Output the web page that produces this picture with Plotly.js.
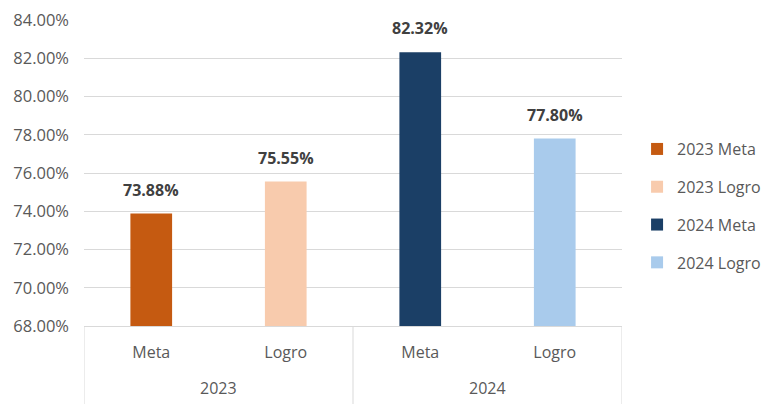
<!DOCTYPE html>
<html><head><meta charset="utf-8">
<script src="https://cdn.plot.ly/plotly-3.0.1.min.js"></script>
<style>html,body{margin:0;padding:0;background:#fff}#chart{width:768px;height:404px}</style>
</head><body><div id="chart"></div>
<script>
const years = ["2023", "2023", "2024", "2024"];
const categories = ["Meta", "Logro", "Meta", "Logro"];
const values = [73.88, 75.55, 82.32, 77.80];
const seriesNames = ["2023 Meta", "2023 Logro", "2024 Meta", "2024 Logro"];
const colors = ["#C55A11", "#F8CBAD", "#1B3F66", "#A9CBEC"];
const yTicks = [68, 70, 72, 74, 76, 78, 80, 82, 84];

const font = "Open Sans, Liberation Sans, sans-serif";
const idx = categories.map((_, i) => i);
const traces = values.map((v, i) => ({
  type: "bar",
  name: seriesNames[i],
  legendgroup: "g" + i,
  x: [i],
  y: [v],
  width: 0.31,
  marker: {color: colors[i]},
  hoverinfo: "none"
}));
const annotations = values.map((v, i) => ({
  x: i, xref: "x", y: v, yref: "y",
  text: v.toFixed(2) + "%",
  showarrow: false, yanchor: "bottom", yshift: 11,
  font: {family: font, size: 16, color: "#404040", weight: "bold"}
}));
// group (year) labels and dividers
const groups = [];
years.forEach((y, i) => {
  const g = groups[groups.length - 1];
  if (g && g.name === y) g.end = i; else groups.push({name: y, start: i, end: i});
});
const shapes = [];
groups.forEach((g, k) => {
  annotations.push({x: (g.start + g.end) / 2, xref: "x", y: -0.203, yref: "paper",
    text: g.name, showarrow: false, yanchor: "middle",
    font: {family: font, size: 16, color: "#595959"}});
  if (k === 0) shapes.push({type: "line", xref: "x", yref: "paper", x0: g.start - 0.5, x1: g.start - 0.5, y0: 0, y1: -0.26, line: {color: "#d9d9d9", width: 1}});
  shapes.push({type: "line", xref: "x", yref: "paper", x0: g.end + 0.5, x1: g.end + 0.5, y0: 0, y1: -0.26, line: {color: "#d9d9d9", width: 1}});
});
const layout = {
  width: 768, height: 404,
  margin: {l: 84, r: 146, t: 20, b: 78, autoexpand: false},
  paper_bgcolor: "#fff", plot_bgcolor: "#fff",
  barmode: "overlay",
  showlegend: true,
  legend: {x: 1.028, xanchor: "left", y: 0.392, yanchor: "middle",
    font: {family: font, size: 16, color: "#595959"}, tracegroupgap: 14, traceorder: "grouped"},
  xaxis: {range: [-0.5, categories.length - 0.5], tickvals: idx, ticktext: categories,
    showline: true, linecolor: "#d9d9d9", linewidth: 1, zeroline: false, ticklabelstandoff: 12,
    tickfont: {family: font, size: 16, color: "#595959"}, ticks: "", showgrid: false},
  yaxis: {range: [68, 84], tickvals: yTicks, ticktext: yTicks.map(t => t.toFixed(2) + "%"),
    showgrid: true, gridcolor: "#d9d9d9", gridwidth: 1, zeroline: false, showline: false,
    tickfont: {family: font, size: 16.5, color: "#595959"}, ticklen: 0, ticks: "", ticklabelstandoff: 14},
  annotations: annotations,
  shapes: shapes
};
Plotly.newPlot("chart", traces, layout, {displayModeBar: false, staticPlot: true});
</script></body></html>
